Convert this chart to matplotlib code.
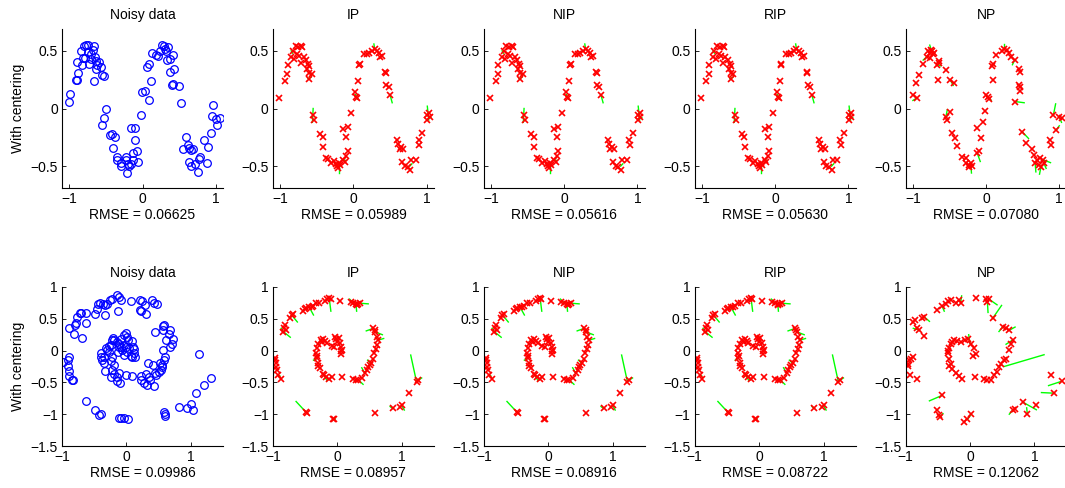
import numpy as np
import matplotlib
matplotlib.use('Agg')
import matplotlib.pyplot as plt

plt.rcParams['font.family'] = ['Liberation Sans', 'DejaVu Sans']
plt.rcParams['font.size'] = 10

titles = ['Noisy data', 'IP', 'NIP', 'RIP', 'NP']
rmse_sine = ['0.06625', '0.05989', '0.05616', '0.05630', '0.07080']
rmse_spiral = ['0.09986', '0.08957', '0.08916', '0.08722', '0.12062']

# ---- top row: noisy sine ----
sine_noisy = np.array([
    (-1.0, 0.058), (-0.99, 0.13), (-0.91, 0.25), (-0.89, 0.25), (-0.88, 0.305), (-0.9, 0.40),
    (-0.84, 0.50), (-0.80, 0.54), (-0.77, 0.55), (-0.74, 0.55), (-0.81, 0.44), (-0.83, 0.38),
    (-0.73, 0.39), (-0.71, 0.47), (-0.70, 0.43), (-0.67, 0.51), (-0.66, 0.54), (-0.65, 0.45),
    (-0.64, 0.41), (-0.62, 0.38), (-0.59, 0.40), (-0.57, 0.36), (-0.64, 0.34), (-0.66, 0.24),
    (-0.55, 0.29), (-0.52, 0.28), (-0.78, 0.44), (-0.74, 0.49),
    (-0.50, 0.0), (-0.53, -0.08), (-0.55, -0.14), (-0.44, -0.23), (-0.41, -0.22), (-0.37, -0.25),
    (-0.40, -0.34), (-0.35, -0.42), (-0.35, -0.45), (-0.30, -0.47), (-0.29, -0.50), (-0.23, -0.42),
    (-0.22, -0.45), (-0.20, -0.48), (-0.19, -0.50), (-0.21, -0.56), (-0.16, -0.17), (-0.13, -0.39),
    (-0.10, -0.17), (-0.10, -0.27), (-0.07, -0.37), (-0.06, -0.46), (-0.13, -0.45), (-0.155, -0.48),
    (-0.02, -0.06),
    (-0.01, 0.145), (0.035, 0.15), (0.09, 0.07), (0.11, 0.24), (0.065, 0.36), (0.09, 0.39),
    (0.13, 0.485), (0.18, 0.465), (0.205, 0.455), (0.24, 0.5), (0.26, 0.55), (0.29, 0.54),
    (0.305, 0.52), (0.32, 0.5), (0.33, 0.42), (0.355, 0.53), (0.38, 0.43), (0.41, 0.46),
    (0.38, 0.32), (0.43, 0.34), (0.40, 0.2), (0.41, 0.21), (0.50, 0.195), (0.53, 0.044),
    (0.59, -0.25), (0.56, -0.35), (0.62, -0.32), (0.64, -0.34), (0.66, -0.36), (0.69, -0.35),
    (0.63, -0.46), (0.66, -0.50), (0.72, -0.48), (0.76, -0.55), (0.77, -0.44), (0.78, -0.42),
    (0.84, -0.27), (0.88, -0.47), (0.90, -0.33), (0.93, -0.21), (0.96, 0.03), (0.95, -0.064),
    (1.0, -0.087), (1.02, -0.14), (1.06, -0.08),
])

sine_ip = np.array([
    (-1.02, 0.09), (-0.94, 0.24), (-0.91, 0.30), (-0.90, 0.38), (-0.85, 0.45), (-0.83, 0.50),
    (-0.79, 0.54), (-0.76, 0.53), (-0.72, 0.54), (-0.70, 0.53), (-0.74, 0.455), (-0.72, 0.395),
    (-0.68, 0.445), (-0.65, 0.42), (-0.62, 0.39), (-0.60, 0.37), (-0.63, 0.345), (-0.60, 0.31),
    (-0.57, 0.30), (-0.61, 0.26), (-0.81, 0.43), (-0.77, 0.47),
    (-0.55, -0.06), (-0.54, -0.10), (-0.45, -0.22), (-0.42, -0.25), (-0.41, -0.33), (-0.37, -0.43),
    (-0.35, -0.435), (-0.30, -0.47), (-0.27, -0.455), (-0.24, -0.48), (-0.22, -0.50), (-0.20, -0.47),
    (-0.18, -0.49), (-0.14, -0.445), (-0.10, -0.415), (-0.08, -0.37), (-0.14, -0.175), (-0.08, -0.16),
    (-0.10, -0.25), (-0.035, -0.04), (-0.21, -0.52), (-0.12, -0.46),
    (0.025, 0.14), (0.04, 0.10), (0.05, 0.09), (0.06, 0.235), (0.075, 0.38), (0.085, 0.39),
    (0.15, 0.475), (0.19, 0.475), (0.21, 0.48), (0.26, 0.50), (0.29, 0.515), (0.32, 0.50),
    (0.35, 0.485), (0.36, 0.45), (0.39, 0.455), (0.43, 0.32), (0.44, 0.305), (0.45, 0.205),
    (0.48, 0.19), (0.50, 0.117),
    (0.60, -0.27), (0.61, -0.31), (0.65, -0.335), (0.68, -0.35), (0.63, -0.35), (0.67, -0.465),
    (0.70, -0.50), (0.74, -0.51), (0.77, -0.53), (0.79, -0.445), (0.85, -0.445), (0.90, -0.32),
    (0.89, -0.275), (0.94, -0.215), (1.01, -0.057), (1.03, -0.036), (1.04, -0.077), (1.01, -0.10),
])
# green error segments: x0, y0, x1, y1
sine_ip_err = np.array([
    (0.50, 0.12, 0.53, 0.05), (1.01, 0.02, 1.03, -0.10), (-0.55, 0.0, -0.56, -0.12),
    (-0.62, 0.26, -0.58, 0.27), (-0.20, -0.50, -0.20, -0.56), (0.29, 0.52, 0.28, 0.56),
    (0.03, 0.12, 0.06, 0.08), (-0.83, 0.48, -0.85, 0.50), (1.03, -0.07, 1.06, -0.08),
    (-0.60, 0.31, -0.57, 0.29), (0.77, -0.50, 0.80, -0.48), (-0.14, -0.445, -0.11, -0.45),
])

sine_np = np.array([
    (-1.0, 0.12), (-0.95, 0.09), (-0.96, 0.225), (-0.92, 0.29), (-0.86, 0.39), (-0.81, 0.45),
    (-0.79, 0.495), (-0.77, 0.48), (-0.75, 0.51), (-0.73, 0.475), (-0.71, 0.485), (-0.76, 0.44),
    (-0.74, 0.50), (-0.67, 0.38), (-0.65, 0.395), (-0.64, 0.41), (-0.66, 0.25), (-0.55, 0.33),
    (-0.49, 0.25), (-0.44, 0.22),
    (-0.55, -0.075), (-0.54, -0.10), (-0.49, -0.03), (-0.47, -0.215), (-0.42, -0.26), (-0.40, -0.325),
    (-0.33, -0.42), (-0.28, -0.43), (-0.27, -0.47), (-0.24, -0.49), (-0.21, -0.47), (-0.19, -0.50),
    (-0.23, -0.51), (-0.12, -0.39), (-0.10, -0.365), (-0.13, -0.17), (-0.07, -0.26), (-0.04, -0.12),
    (-0.02, -0.02),
    (0.0, 0.12), (0.02, 0.10), (0.035, 0.08), (0.09, 0.25), (0.08, 0.365), (0.10, 0.385),
    (0.14, 0.465), (0.22, 0.495), (0.24, 0.515), (0.28, 0.505), (0.31, 0.485), (0.34, 0.45),
    (0.39, 0.42), (0.45, 0.34), (0.47, 0.32), (0.40, 0.06), (0.45, 0.205), (0.46, 0.15),
    (0.46, 0.19),
    (0.49, -0.20), (0.54, -0.30), (0.63, -0.35), (0.65, -0.40), (0.70, -0.45), (0.67, -0.47),
    (0.72, -0.49), (0.75, -0.505), (0.79, -0.475), (0.78, -0.445), (0.74, -0.43), (0.87, -0.27),
    (0.89, -0.32), (0.92, -0.055), (0.96, -0.185), (1.0, -0.075), (1.04, -0.085),
])
sine_np_err = np.array([
    (0.40, 0.06, 0.52, 0.05), (-0.49, 0.25, -0.45, 0.20), (-0.95, 0.09, -1.0, 0.07),
    (0.49, -0.20, 0.58, -0.26), (0.92, -0.055, 0.95, 0.04), (0.96, -0.185, 1.0, -0.15),
    (0.78, -0.445, 0.88, -0.47), (0.75, -0.505, 0.73, -0.57), (-0.21, -0.47, -0.20, -0.56),
    (-0.12, -0.39, -0.08, -0.46), (0.02, 0.10, 0.07, 0.07), (-0.55, -0.075, -0.53, -0.01),
    (-0.81, 0.45, -0.86, 0.42), (0.39, 0.42, 0.36, 0.38), (-0.75, 0.51, -0.77, 0.55),
    (0.24, 0.515, 0.24, 0.56), (0.67, -0.47, 0.68, -0.55), (-0.66, 0.38, -0.62, 0.37),
    (1.0, -0.075, 1.03, -0.12), (0.79, -0.475, 0.82, -0.52),
])

# ---- bottom row: noisy spiral ----
spiral_noisy = np.array([
    (-0.98, -0.175), (-0.89, -0.095), (-0.90, -0.15), (-0.91, -0.25), (-0.895, -0.32), (-0.89, -0.40),
    (-0.85, -0.46), (-0.83, -0.46), (-0.89, 0.36), (-0.82, 0.26), (-0.80, 0.40), (-0.78, 0.435),
    (-0.76, 0.53), (-0.72, 0.585), (-0.70, 0.595), (-0.69, 0.20), (-0.62, 0.44), (-0.62, 0.595),
    (-0.48, 0.58), (-0.46, 0.65), (-0.44, 0.73), (-0.41, 0.75), (-0.37, 0.73), (-0.33, 0.56),
    (-0.34, 0.71), (-0.30, 0.74), (-0.255, 0.80), (-0.225, 0.81), (-0.14, 0.87), (-0.115, 0.845),
    (-0.08, 0.80), (-0.13, 0.62), (0.075, 0.78), (0.21, 0.80), (0.245, 0.78), (0.21, 0.635),
    (0.23, 0.625), (0.295, 0.715), (0.31, 0.57), (0.40, 0.79), (0.43, 0.75), (0.48, 0.73),
    (0.45, 0.285), (0.57, 0.385), (0.59, 0.40), (0.57, 0.32), (0.68, 0.33), (0.655, 0.26),
    (0.73, 0.175), (0.705, 0.11), (0.68, 0.06), (0.57, 0.01), (0.62, 0.165), (0.60, -0.095),
    (0.58, -0.15), (0.55, -0.23), (0.53, -0.31), (0.50, -0.33), (0.45, -0.36), (0.465, -0.385),
    (0.33, -0.19), (0.31, -0.37), (0.41, -0.23), (0.52, -0.20), (0.55, -0.26), (0.345, -0.41),
    (0.37, -0.46), (0.425, -0.56), (0.32, -0.54), (0.28, -0.505), (0.22, -0.40), (0.22, -0.46),
    (0.09, -0.40), (-0.01, -0.385), (-0.10, -0.515), (-0.14, -0.48), (-0.15, -0.42), (-0.115, -0.35),
    (-0.22, -0.31), (-0.195, -0.37), (-0.245, -0.41), (-0.34, -0.32), (-0.375, -0.15), (-0.35, -0.20),
    (-0.35, -0.095), (-0.39, -0.045), (-0.40, -0.095), (-0.32, 0.045), (-0.295, 0.01), (-0.27, 0.07),
    (-0.235, 0.095), (-0.27, -0.02), (-0.22, -0.095), (-0.245, -0.16), (-0.195, -0.23), (-0.22, 0.165),
    (-0.205, 0.205), (-0.185, 0.165), (-0.15, 0.14), (-0.115, 0.11), (-0.09, 0.19), (-0.04, 0.245),
    (-0.01, 0.27), (0.01, 0.22), (0.03, 0.165), (-0.09, 0.06), (-0.065, 0.01), (-0.03, 0.085),
    (0.0, 0.06), (0.04, 0.035), (0.09, 0.155), (0.105, 0.06), (0.125, 0.02), (0.115, -0.045),
    (0.065, -0.085), (0.09, -0.105), (0.14, -0.105), (0.01, -0.02), (-0.04, -0.07), (-0.13, -0.02),
    (-0.115, 0.06),
    (-0.62, -0.79), (-0.49, -0.935), (-0.42, -1.01), (-0.39, -0.99), (-0.115, -1.065), (-0.08, -1.065),
    (-0.03, -1.065), (0.03, -1.075), (0.59, -0.96), (0.60, -1.0), (0.60, -1.03), (0.82, -0.88),
    (0.94, -0.91), (1.01, -0.84), (1.04, -0.935), (1.08, -0.66), (1.21, -0.54), (1.31, -0.43),
    (1.13, -0.06),
])

spiral_ip = np.array([
    (-0.97, -0.15), (-0.955, -0.20), (-0.945, -0.265), (-0.935, -0.31), (-0.92, -0.385), (-0.88, -0.44),
    (-0.96, -0.12), (-0.84, 0.30), (-0.83, 0.35), (-0.815, 0.40), (-0.735, 0.52), (-0.71, 0.56),
    (-0.685, 0.575), (-0.80, 0.33), (-0.53, 0.63), (-0.48, 0.665), (-0.435, 0.68), (-0.375, 0.70),
    (-0.33, 0.745), (-0.28, 0.755), (-0.50, 0.65), (-0.40, 0.69), (-0.19, 0.785), (-0.155, 0.805),
    (-0.125, 0.82), (-0.105, 0.805), (0.04, 0.785), (0.205, 0.77), (0.25, 0.745), (0.29, 0.735),
    (0.325, 0.73), (0.35, 0.745), (0.30, 0.72),
    (0.56, 0.35), (0.585, 0.295), (0.61, 0.22), (0.635, 0.165), (0.62, 0.09), (0.60, 0.02),
    (0.57, -0.045), (0.55, -0.125), (0.52, -0.20), (0.48, -0.255), (0.455, -0.31), (0.43, -0.36),
    (0.38, -0.435), (0.58, 0.32), (0.50, -0.23), (0.325, -0.46), (0.29, -0.47), (0.25, -0.45),
    (0.07, -0.41),
    (-0.09, -0.41), (-0.125, -0.44), (-0.175, -0.41), (-0.22, -0.37), (-0.27, -0.28), (-0.295, -0.20),
    (-0.32, -0.12), (-0.33, -0.045), (-0.32, 0.035), (-0.295, 0.11), (-0.26, 0.165), (-0.22, 0.175),
    (-0.19, 0.155), (-0.165, 0.125), (-0.30, -0.25), (-0.31, -0.08), (-0.24, 0.14), (-0.20, -0.39),
    (-0.035, 0.22), (-0.02, 0.175), (0.0, 0.14), (0.04, 0.115), (0.065, 0.06), (0.08, 0.01),
    (0.065, -0.055), (-0.09, 0.07), (-0.05, 0.05), (0.02, 0.20), (0.06, 0.0),
    (-0.49, -0.97), (-0.47, -0.985), (-0.07, -1.07), (-0.05, -1.07), (0.585, -0.98), (0.86, -0.91),
    (0.98, -0.88), (1.0, -0.86), (1.12, -0.66), (1.23, -0.49), (1.25, -0.47),
])
spiral_ip_err = np.array([
    (1.23, -0.49, 1.14, -0.07), (-0.47, -0.985, -0.64, -0.80), (0.35, 0.745, 0.48, 0.735),
    (-0.84, 0.30, -0.73, 0.21), (0.56, 0.35, 0.45, 0.31), (-0.125, 0.82, -0.10, 0.62),
    (-0.71, 0.56, -0.62, 0.45), (-0.435, 0.68, -0.37, 0.56), (0.635, 0.165, 0.72, 0.19),
    (0.43, -0.36, 0.38, -0.27), (0.325, -0.46, 0.40, -0.53), (0.29, 0.735, 0.30, 0.62),
    (0.25, 0.745, 0.19, 0.81), (-0.84, 0.30, -0.87, 0.35), (1.25, -0.47, 1.31, -0.43),
    (0.585, 0.295, 0.70, 0.25), (-0.22, -0.37, -0.16, -0.47), (-0.32, -0.12, -0.37, -0.15),
    (0.86, -0.91, 0.82, -0.88), (1.0, -0.86, 1.04, -0.935), (-0.07, -1.07, -0.03, -1.075),
    (-0.92, -0.385, -0.89, -0.40), (0.52, -0.20, 0.47, -0.15),
])

spiral_np = np.array([
    (-0.97, -0.205), (-0.955, -0.245), (-0.94, -0.15), (-0.92, -0.125), (-0.89, -0.10), (-0.93, -0.39),
    (-0.825, -0.44), (-0.88, 0.455), (-0.85, 0.48), (-0.825, 0.35), (-0.785, 0.32), (-0.72, 0.225),
    (-0.745, 0.505), (-0.71, 0.53), (-0.51, 0.645), (-0.435, 0.70), (-0.38, 0.74), (-0.345, 0.785),
    (-0.30, 0.795), (-0.225, 0.755), (-0.17, 0.795), (-0.145, 0.755), (0.09, 0.82), (0.245, 0.805),
    (0.27, 0.77), (0.30, 0.805), (0.35, 0.505),
    (0.51, 0.375), (0.56, 0.35), (0.61, 0.32), (0.66, 0.165), (0.64, 0.11), (0.61, 0.005),
    (0.56, -0.125), (0.53, -0.15), (0.48, -0.205), (0.455, -0.26), (0.42, -0.34), (0.375, -0.39),
    (0.325, -0.46), (0.27, -0.47), (0.22, -0.44), (0.075, -0.415),
    (-0.12, -0.44), (-0.17, -0.405), (-0.225, -0.36), (-0.275, -0.285), (-0.30, -0.205), (-0.33, -0.125),
    (-0.345, -0.045), (-0.33, 0.045), (-0.30, 0.11), (-0.25, 0.165), (-0.2, 0.155), (-0.145, 0.14),
    (-0.085, 0.165), (-0.03, 0.175), (0.01, 0.11), (0.06, 0.045), (0.09, -0.06), (0.04, -0.09),
    (-0.32, -0.25), (-0.34, 0.0), (-0.28, 0.14),
    (-0.435, -0.705), (-0.51, -0.94), (-0.485, -1.02), (-0.47, -1.05), (-0.095, -1.125), (-0.04, -1.07),
    (0.02, -0.995), (0.66, -0.94), (0.70, -0.915), (0.82, -0.81), (0.89, -0.995), (1.03, -0.86),
    (1.25, -0.39), (1.43, -0.48), (1.31, -0.67),
])
spiral_np_err = np.array([
    (0.53, -0.25, 1.15, -0.065), (1.43, -0.48, 1.22, -0.55), (1.31, -0.67, 1.11, -0.66),
    (-0.435, -0.705, -0.63, -0.79), (0.82, -0.81, 1.03, -0.93), (0.66, -0.94, 0.61, -1.0),
    (-0.47, -1.05, -0.42, -0.99), (0.02, -0.995, -0.03, -1.07), (0.27, 0.77, 0.28, 0.60),
    (0.35, 0.505, 0.49, 0.71), (0.30, 0.805, 0.42, 0.72), (0.51, 0.375, 0.45, 0.30),
    (0.61, 0.32, 0.70, 0.37), (-0.145, 0.755, -0.13, 0.86), (-0.785, 0.32, -0.88, 0.35),
    (-0.71, 0.53, -0.63, 0.46), (-0.435, 0.70, -0.40, 0.62), (0.66, 0.165, 0.56, 0.10),
    (0.0, 0.11, -0.02, 0.25), (-0.97, -0.205, -0.99, -0.25), (0.89, -0.995, 0.88, -0.90),
])

rows = [
    dict(noisy=sine_noisy, fits=[(sine_ip, sine_ip_err), (sine_ip, sine_ip_err),
                                 (sine_ip, sine_ip_err), (sine_np, sine_np_err)],
         rmse=rmse_sine, xlim=(-1.1, 1.1), ylim=(-0.69, 0.69), yticks=[-0.5, 0, 0.5]),
    dict(noisy=spiral_noisy, fits=[(spiral_ip, spiral_ip_err), (spiral_ip, spiral_ip_err),
                                   (spiral_ip, spiral_ip_err), (spiral_np, spiral_np_err)],
         rmse=rmse_spiral, xlim=(-1.0, 1.5), ylim=(-1.5, 1.0), yticks=[-1.5, -1, -0.5, 0, 0.5, 1]),
]


def style(ax, row):
    ax.set_xlim(row['xlim'])
    ax.set_ylim(row['ylim'])
    ax.set_xticks([-1, 0, 1])
    ax.set_yticks(row['yticks'])
    ax.set_yticklabels([('%g' % t).replace('-', '\u2212') for t in row['yticks']])
    ax.set_xticklabels(['\u22121', '0', '1'])
    ax.spines['top'].set_visible(False)
    ax.spines['right'].set_visible(False)
    ax.tick_params(direction='in', length=3, width=0.6, labelsize=10, pad=3)
    for s in ('left', 'bottom'):
        ax.spines[s].set_linewidth(0.8)


fig = plt.figure(figsize=(10.65, 4.88), dpi=100)
left0, step, w, h = 62 / 1065, 210.9 / 1065, 161 / 1065, 159 / 488
bottoms = [(488 - 188) / 488, (488 - 446) / 488]

for r, row in enumerate(rows):
    for c in range(5):
        ax = fig.add_axes([left0 + c * step, bottoms[r], w, h])
        if c == 0:
            d = row['noisy']
            ax.plot(d[:, 0], d[:, 1], 'o', mfc='none', mec='b', ms=5.5, mew=0.9)
            ax.set_ylabel('With centering')
        else:
            pts, err = row['fits'][c - 1]
            for x0, y0, x1, y1 in err:
                ax.plot([x0, x1], [y0, y1], '-', color=(0, 1, 0), lw=1.0)
            ax.plot(pts[:, 0], pts[:, 1], 'x', color='r', ms=4.3, mew=1.2)
        ax.set_title(titles[c], fontsize=10, pad=7)
        ax.set_xlabel('RMSE = ' + row['rmse'][c], labelpad=1)
        style(ax, row)

fig.savefig('out.png', dpi=100)
